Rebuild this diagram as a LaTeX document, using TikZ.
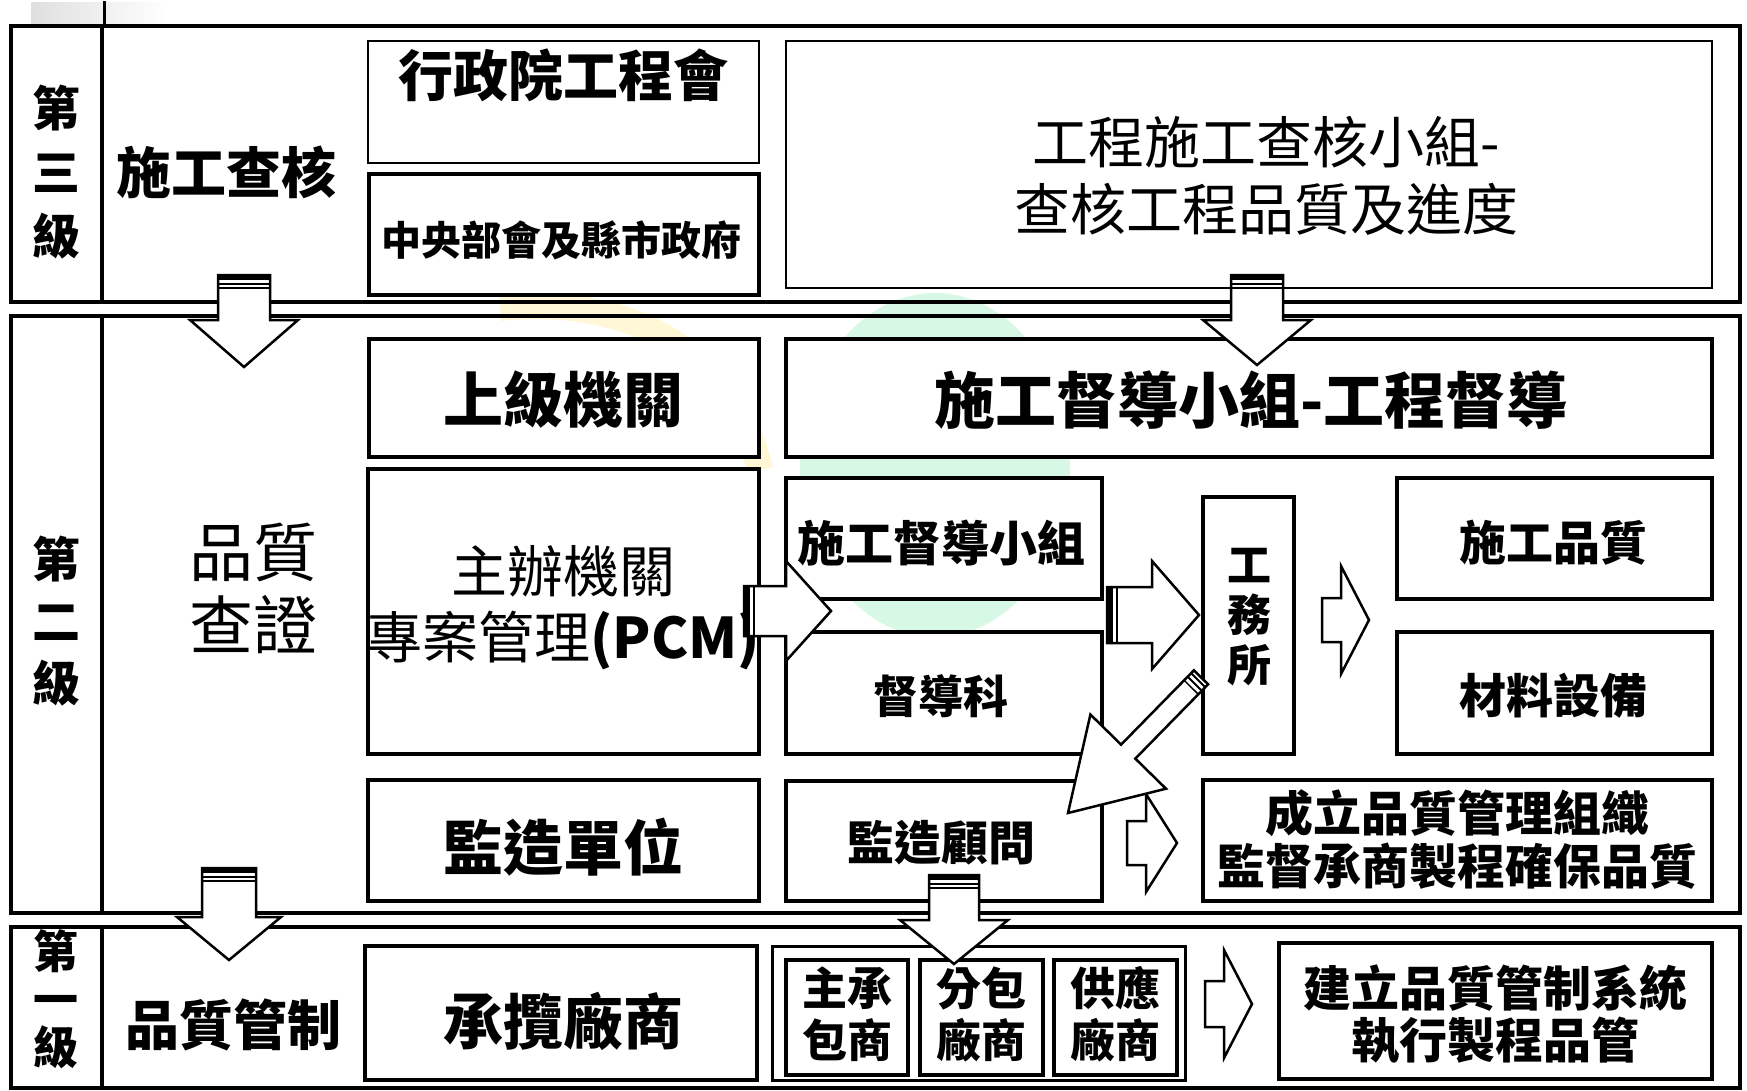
\documentclass[tikz,border=0pt]{standalone}
\usepackage{fontspec}
\setmainfont{Noto Sans CJK TC}
\usetikzlibrary{fit}
\definecolor{mint}{HTML}{D8F8E6}
\definecolor{lyellow}{HTML}{FFF7D6}
\newcommand\fz[2]{\fontsize{#1}{#2}\selectfont}
% down block arrow: cx, top, base, tip, shaft half, head half
\newcommand\darr[6]{%
  \draw[barrow] (#1-#5,#2) -- (#1-#5,#3) -- (#1-#6,#3) -- (#1,#4) -- (#1+#6,#3) -- (#1+#5,#3) -- (#1+#5,#2) -- cycle;
  \fill (#1-#5,#2) rectangle (#1+#5,#2+5);
  \draw[line width=2pt] (#1-#5,#2+9) -- (#1+#5,#2+9);
  \draw[line width=1.2pt] (#1-#5,#2+13) -- (#1+#5,#2+13);}
% right block arrow: cy, left, base, tip, shaft half, head half
\newcommand\rarr[6]{%
  \draw[barrow] (#2,#1-#5) -- (#3,#1-#5) -- (#3,#1-#6) -- (#4,#1) -- (#3,#1+#6) -- (#3,#1+#5) -- (#2,#1+#5) -- cycle;}
\newcommand\rstripes[3]{% cy, left, shaft half
  \fill (#2,#1-#3) rectangle (#2+6,#1+#3);
  \draw[line width=2pt] (#2+10,#1-#3) -- (#2+10,#1+#3);}
\tikzset{
  frame/.style={draw, line width=4pt, inner sep=0pt},
  box/.style={draw, line width=4.5pt, fill=white, inner sep=0pt},
  thinbox/.style={draw, line width=2.2pt, fill=white, inner sep=0pt},
  midbox/.style={draw, line width=3.5pt, fill=white, inner sep=0pt},
  barrow/.style={draw, fill=white, line width=2.5pt, line join=miter},
  txt/.style={inner sep=0pt, align=center},
}
\begin{document}
\begin{tikzpicture}[x=1pt,y=-1pt]
\useasboundingbox (0,0) rectangle (1747,1090);
% faint background watermark
\fill[mint] (935,465) ellipse [x radius=135pt, y radius=172pt];
\draw[lyellow, line width=26pt] (500,308) .. controls (640,294) and (735,360) .. (760,470);
% top fragment
\shade[left color=gray!25, right color=white] (31,2) rectangle (167,24);
\draw[line width=3pt] (104,1) -- (104,26);
% level frames
\node[frame, fit={(11,26)(1740,302)}] (L3) {};
\draw[line width=4pt] (102,26) -- (102,302);
\node[frame, fit={(11,316)(1740,913)}] (L2) {};
\draw[line width=4pt] (102,316) -- (102,913);
\node[frame, fit={(11,927)(1740,1088)}] (L1) {};
\draw[line width=4pt] (102,927) -- (102,1088);
% level 3 boxes
\node[thinbox, fit={(368,41)(759,163)}] (xzy) {};
\node[box, fit={(369,174)(759,295)}] (zyb) {};
\node[thinbox, fit={(786,41)(1712,288)}] (chk) {};
% level 2 boxes
\node[box, fit={(369,339)(759,457)}] (sjjg) {};
\node[box, fit={(786,339)(1712,457)}] (dd) {};
\node[box, fit={(368,469)(759,754)}] (zb) {};
\node[box, fit={(368,780)(759,901)}] (jz) {};
\node[box, fit={(786,478)(1102,599)}] (sgdd) {};
\node[box, fit={(786,632)(1102,754)}] (ddk) {};
\node[box, fit={(1203,497)(1294,754)}] (gws) {};
\node[box, fit={(1397,478)(1712,599)}] (sgpz) {};
\node[box, fit={(1397,632)(1712,754)}] (clsb) {};
\node[box, fit={(786,781)(1102,901)}] (jzgw) {};
\node[box, fit={(1203,780)(1712,901)}] (clpz) {};
% level 1 boxes
\node[box, fit={(365,946)(757,1080)}] (cl) {};
\node[draw, line width=3pt, fill=white, inner sep=0pt, fit={(772,946)(1185,1080)}] (grp) {};
\node[midbox, fit={(786,960)(908,1075)}] (zcb) {};
\node[midbox, fit={(920,960)(1043,1075)}] (fb) {};
\node[midbox, fit={(1054,960)(1177,1075)}] (gy) {};
\node[box, fit={(1279,943)(1712,1079)}] (jl) {};
% texts
\node[txt, font=\fz{48}{64}\bfseries] (t3) at (56,172) {第\\三\\級};
\node[txt, font=\fz{55}{60}\bfseries] (sgch) at (226,172) {施工查核};
\node[txt, font=\fz{55}{60}\bfseries] at (563,75) {行政院工程會};
\node[txt, font=\fz{40}{44}\bfseries] at (561,240) {中央部會及縣市政府};
\node[txt, font=\fz{56}{67}] at (1266,176) {工程施工查核小組-\\查核工程品質及進度};
\node[txt, font=\fz{60}{64}\bfseries] at (563,400) {上級機關};
\node[txt, font=\fz{61}{64}\bfseries] at (1251,400) {施工督導小組-工程督導};
\node[txt, font=\fz{48}{62}\bfseries] (t2) at (56,621) {第\\二\\級};
\node[txt, font=\fz{64}{73}] (pzcz) at (253,588) {品質\\查證};
\node[txt, font=\fz{56}{66}] at (563,608) {主辦機關\\專案管理{\bfseries(PCM)}};
\node[txt, font=\fz{60}{64}\bfseries] at (563,847) {監造單位};
\node[txt, font=\fz{48}{52}\bfseries] at (941,543) {施工督導小組};
\node[txt, font=\fz{45}{50}\bfseries] at (941,696) {督導科};
\node[txt, font=\fz{44}{50}\bfseries] at (1249,617) {工\\務\\所};
\node[txt, font=\fz{47}{52}\bfseries] at (1553,543) {施工品質};
\node[txt, font=\fz{47}{52}\bfseries] at (1553,696) {材料設備};
\node[txt, font=\fz{47}{52}\bfseries] at (941,843) {監造顧問};
\node[txt, font=\fz{48}{53}\bfseries] at (1457,840) {成立品質管理組織\\監督承商製程確保品質};
\node[txt, font=\fz{45}{48}\bfseries] (t1) at (56,999) {第\\一\\級};
\node[txt, font=\fz{54}{60}\bfseries] at (233,1025) {品質管制};
\node[txt, font=\fz{60}{64}\bfseries] at (563,1021) {承攬廠商};
\node[txt, font=\fz{45}{52}\bfseries] at (847,1014) {主承\\包商};
\node[txt, font=\fz{45}{52}\bfseries] at (981,1014) {分包\\廠商};
\node[txt, font=\fz{45}{52}\bfseries] at (1115,1014) {供應\\廠商};
\node[txt, font=\fz{48}{52}\bfseries] at (1495,1014) {建立品質管制系統\\執行製程品管};
% block arrows
\darr{244}{275}{320}{367}{26}{54}
\darr{1257}{275}{320}{365}{26}{54}
\darr{229}{868}{917}{960}{27}{52}
\darr{954}{875}{920}{964}{25}{54}
\rarr{611}{744}{786}{831}{25}{50}
\rstripes{611}{744}{25}
\rarr{615}{1107}{1152}{1199}{28}{54}
\rstripes{615}{1107}{28}
\rarr{620}{1322}{1341}{1369}{22}{54}
\rarr{843}{1127}{1146}{1177}{22}{49}
\rarr{1004}{1205}{1224}{1252}{23}{54}
% diagonal arrow from 工務所 to 監造顧問
\draw[barrow] (1068,813) -- (1166,788.7) -- (1135.3,758.6) -- (1208.1,684.3) -- (1193.9,670.3) -- (1121.1,744.6) -- (1090.4,714.5) -- cycle;
\draw[line width=2pt] (1205.3,687.2) -- (1191.1,673.2);
\draw[line width=2pt] (1201.8,690.7) -- (1187.6,676.7);
\draw[line width=1.5pt] (1198.3,694.3) -- (1184.1,680.3);
\end{tikzpicture}
\end{document}
